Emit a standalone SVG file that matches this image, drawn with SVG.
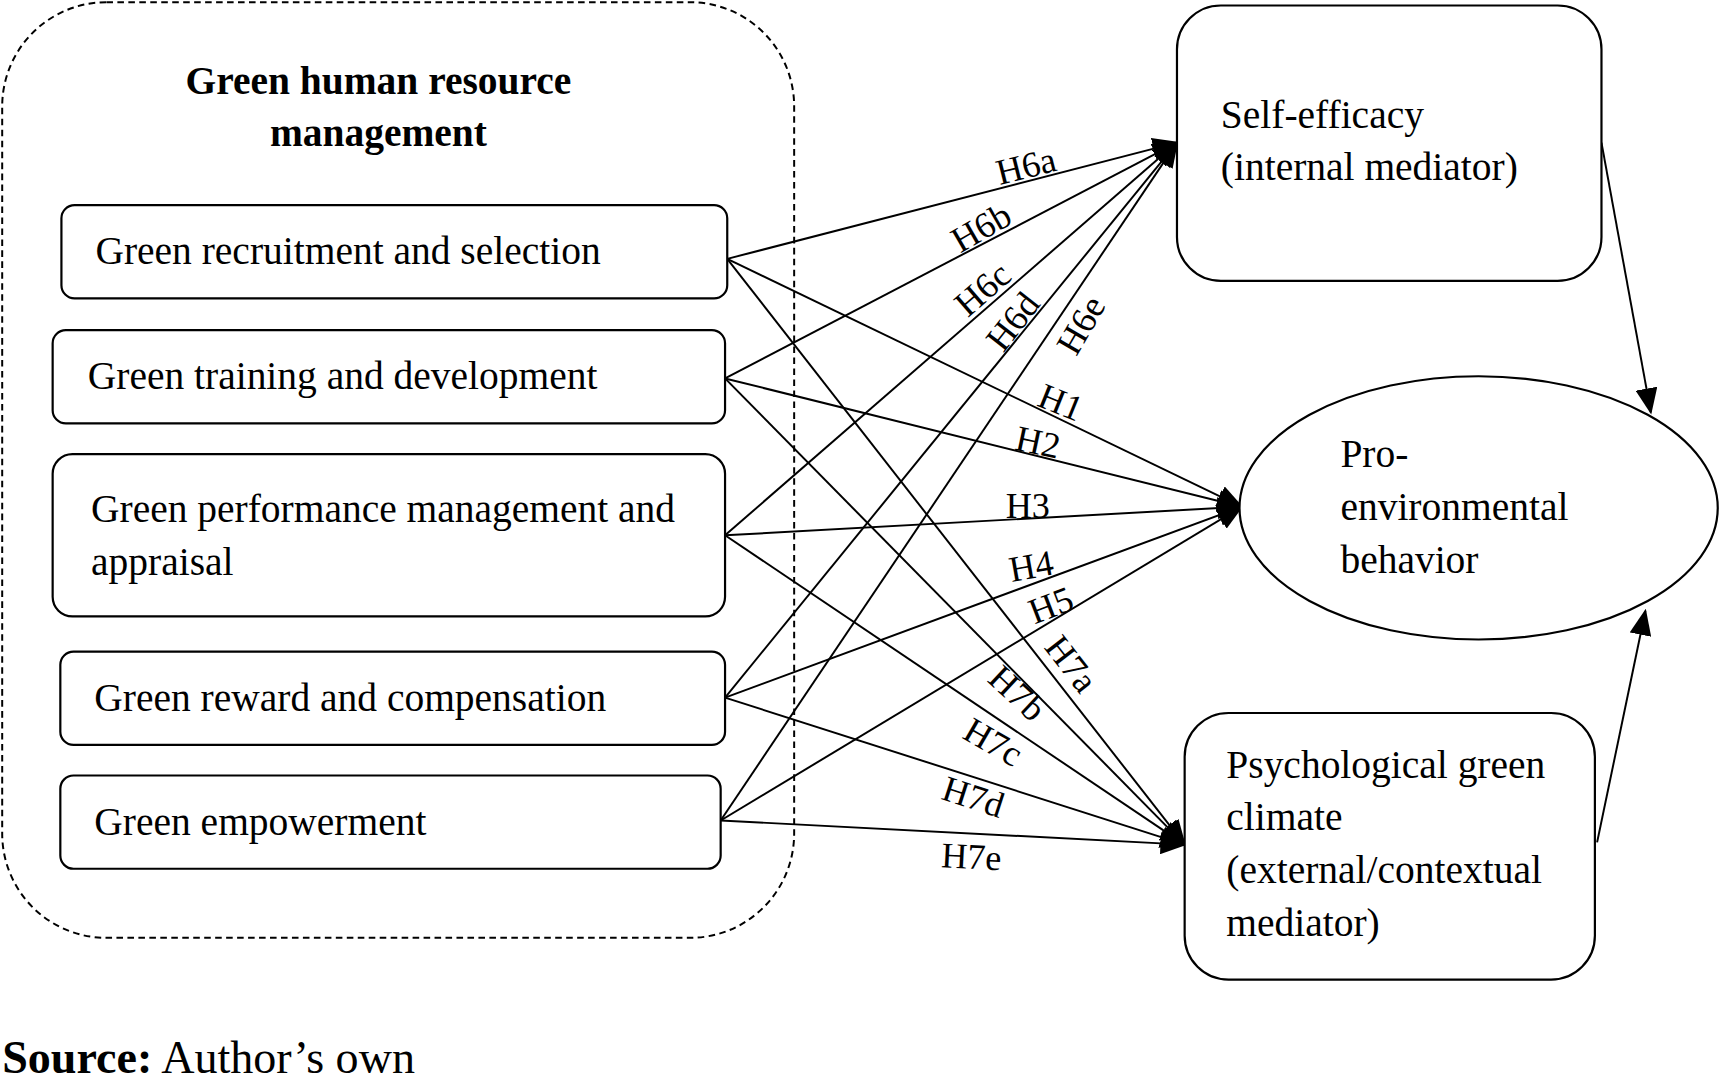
<svg xmlns="http://www.w3.org/2000/svg" width="1720" height="1085" viewBox="0 0 1720 1085">
<style>
text{font-family:"Liberation Serif","Times New Roman",serif;fill:#000}
.t{font-size:36px}
.l{font-size:33px}
.b{fill:#fff;stroke:#000;stroke-width:2}
.c line{stroke:#000;stroke-width:1.8;marker-end:url(#a)}
</style>
<defs><marker id="a" markerUnits="userSpaceOnUse" markerWidth="24" markerHeight="20" refX="22" refY="10" orient="auto"><path d="M0,0L24,10L0,20Z" fill="#000"/></marker></defs>
<rect width="1720" height="1085" fill="#fff"/>
<g transform="scale(1.0969)">
<g id="ghrm"><rect x="2" y="2" width="722" height="853" rx="95" fill="none" stroke="#000" stroke-width="1.8" stroke-dasharray="6,4"/>
<text x="345" y="86" text-anchor="middle" font-weight="bold" font-size="36">Green human resource</text>
<text x="345" y="133" text-anchor="middle" font-weight="bold" font-size="36">management</text></g>
<g class="c">
<line x1="663" y1="236" x2="1073" y2="130"/>
<line x1="661" y1="345" x2="1073" y2="130"/>
<line x1="661" y1="488" x2="1073" y2="130"/>
<line x1="661" y1="636" x2="1073" y2="130"/>
<line x1="657" y1="748" x2="1073" y2="130"/>
<line x1="663" y1="236" x2="1132" y2="462"/>
<line x1="661" y1="345" x2="1132" y2="462"/>
<line x1="661" y1="488" x2="1132" y2="462"/>
<line x1="661" y1="636" x2="1132" y2="462"/>
<line x1="657" y1="748" x2="1132" y2="462"/>
<line x1="663" y1="236" x2="1080" y2="770"/>
<line x1="661" y1="345" x2="1080" y2="770"/>
<line x1="661" y1="488" x2="1080" y2="770"/>
<line x1="661" y1="636" x2="1080" y2="770"/>
<line x1="657" y1="748" x2="1080" y2="770"/>
<line x1="1460" y1="130" x2="1505" y2="376"/>
<line x1="1456" y1="768" x2="1500" y2="557"/>
</g>
<g class="l">
<text transform="translate(938,162) rotate(-14)" text-anchor="middle">H6a</text>
<text transform="translate(900,217) rotate(-30)" text-anchor="middle">H6b</text>
<text transform="translate(903,272) rotate(-41)" text-anchor="middle">H6c</text>
<text transform="translate(932,300) rotate(-52)" text-anchor="middle">H6d</text>
<text transform="translate(995,302) rotate(-60)" text-anchor="middle">H6e</text>
<text transform="translate(963,377) rotate(22)" text-anchor="middle">H1</text>
<text transform="translate(944,414) rotate(12)" text-anchor="middle">H2</text>
<text transform="translate(937,472)" text-anchor="middle">H3</text>
<text transform="translate(942,527) rotate(-10)" text-anchor="middle">H4</text>
<text transform="translate(962,562) rotate(-21)" text-anchor="middle">H5</text>
<text transform="translate(968,612) rotate(52)" text-anchor="middle">H7a</text>
<text transform="translate(920,640) rotate(43)" text-anchor="middle">H7b</text>
<text transform="translate(900,686) rotate(30)" text-anchor="middle">H7c</text>
<text transform="translate(884,737) rotate(18)" text-anchor="middle">H7d</text>
<text transform="translate(885,792) rotate(3)" text-anchor="middle">H7e</text>
</g>
<g id="n1"><rect class="b" x="56" y="187" width="607" height="85" rx="12"/><text class="t" x="87" y="241">Green recruitment and selection</text></g>
<g id="n2"><rect class="b" x="48" y="301" width="613" height="85" rx="12"/><text class="t" x="80" y="355">Green training and development</text></g>
<g id="n3"><rect class="b" x="48" y="414" width="613" height="148" rx="18"/><text class="t" x="83" y="476">Green performance management and</text><text class="t" x="83" y="524">appraisal</text></g>
<g id="n4"><rect class="b" x="55" y="594" width="606" height="85" rx="12"/><text class="t" x="86" y="648">Green reward and compensation</text></g>
<g id="n5"><rect class="b" x="55" y="707" width="602" height="85" rx="12"/><text class="t" x="86" y="761">Green empowerment</text></g>
<g id="se"><rect class="b" x="1073" y="5" width="387" height="251" rx="40"/><text class="t" x="1113" y="117">Self-efficacy</text><text class="t" x="1113" y="164">(internal mediator)</text></g>
<g id="peb"><ellipse class="b" cx="1348" cy="463" rx="218" ry="120"/><text class="t" x="1222" y="426">Pro-</text><text class="t" x="1222" y="474">environmental</text><text class="t" x="1222" y="522">behavior</text></g>
<g id="pgc"><rect class="b" x="1080" y="650" width="374" height="243" rx="40"/><text class="t" x="1118" y="709">Psychological green</text><text class="t" x="1118" y="757">climate</text><text class="t" x="1118" y="805">(external/contextual</text><text class="t" x="1118" y="853">mediator)</text></g>
<text x="2" y="978" font-size="42"><tspan font-weight="bold">Source:</tspan> Author’s own</text>
</g>
</svg>
